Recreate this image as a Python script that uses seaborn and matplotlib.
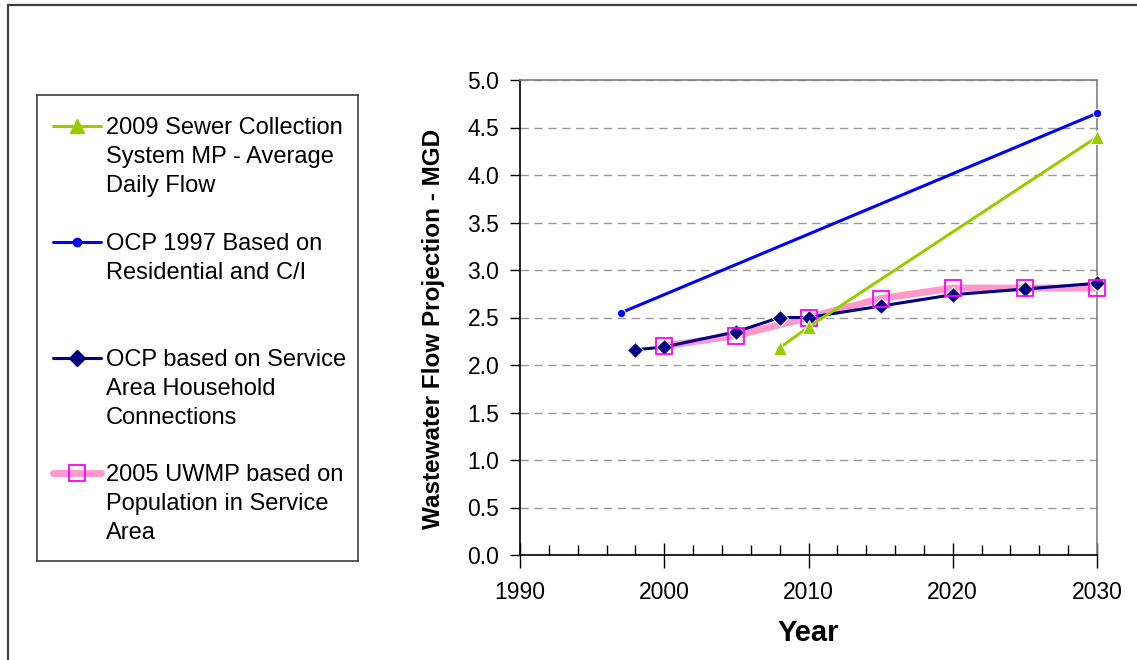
import matplotlib
matplotlib.use('Agg')
import matplotlib.pyplot as plt
from matplotlib.patches import Rectangle
from matplotlib.ticker import MultipleLocator, FormatStrFormatter
import seaborn as sns
import pandas as pd

# values (MGD)
sewer_years = [2008, 2010, 2030]
sewer_flow = [2.18, 2.40, 4.40]

ocp97_years = [1997, 2030]
ocp97_flow = [2.55, 4.65]

ocp_hh_years = [1998, 2000, 2005, 2008, 2010, 2015, 2020, 2025, 2030]
ocp_hh_flow = [2.16, 2.19, 2.35, 2.50, 2.50, 2.62, 2.74, 2.80, 2.86]

uwmp_years = [2000, 2005, 2010, 2015, 2020, 2025, 2030]
uwmp_flow = [2.20, 2.31, 2.50, 2.70, 2.81, 2.81, 2.81]

labels = ['2009 Sewer Collection\nSystem MP - Average\nDaily Flow',
          'OCP 1997 Based on\nResidential and C/I',
          'OCP based on Service\nArea Household\nConnections',
          '2005 UWMP based on\nPopulation in Service\nArea']

sns.set_theme(style='white')
plt.rcParams['font.family'] = ['Liberation Sans', 'DejaVu Sans']
plt.rcParams['text.color'] = 'black'
plt.rcParams['xtick.color'] = 'black'
plt.rcParams['ytick.color'] = 'black'
plt.rcParams['axes.labelcolor'] = 'black'

W, H = 1137, 660
fig = plt.figure(figsize=(W / 100, H / 100), dpi=100)
fig.patch.set_facecolor('white')

# outer chart border (runs off the right and bottom edges)
fig.add_artist(Rectangle((8 / W, -0.1), 1.2, 1 - 5 / H + 0.1, transform=fig.transFigure,
                         fill=False, edgecolor='#404040', lw=1.6, clip_on=False))

ax = fig.add_axes([520 / W, 105 / H, 577 / W, 475 / H])

pink_marks = dict(marker='s', markersize=11, markerfacecolor='none',
                  markeredgecolor='#FF00FF', markeredgewidth=1.3)
series = [
    (sewer_years, sewer_flow, dict(color='#99CC00', marker='^', markersize=10, lw=2.2), 6),
    (ocp97_years, ocp97_flow, dict(color='#0000FF', marker='o', markersize=6, lw=2.2), 7),
    (ocp_hh_years, ocp_hh_flow, dict(color='#000080', marker='D', markersize=8.5, lw=2.2), 4),
    (uwmp_years, uwmp_flow, dict(color='#FF99CC', lw=5), 3),
]

for xs, ys, st, z in series:
    df = pd.DataFrame({'Year': xs, 'Flow': ys})
    sns.lineplot(data=df, x='Year', y='Flow', ax=ax, clip_on=False, zorder=z, **st)

# open magenta squares sit on top of the navy diamonds
uwmp_df = pd.DataFrame({'Year': uwmp_years, 'Flow': uwmp_flow})
sns.lineplot(data=uwmp_df, x='Year', y='Flow', ax=ax, linestyle='none',
             clip_on=False, zorder=5, **pink_marks)

ax.set_xlim(1990, 2030)
ax.set_ylim(0, 5)
ax.xaxis.set_major_locator(MultipleLocator(10))
ax.xaxis.set_minor_locator(MultipleLocator(2))
ax.yaxis.set_major_locator(MultipleLocator(0.5))
ax.yaxis.set_major_formatter(FormatStrFormatter('%.1f'))

ax.tick_params(axis='x', which='major', direction='inout', length=18, width=1,
               labelsize=16.5, pad=10, bottom=True)
ax.tick_params(axis='x', which='minor', direction='in', length=7, width=1, bottom=True)
ax.tick_params(axis='y', which='major', direction='out', length=7, width=1,
               labelsize=16.5, pad=8, left=True)

ax.yaxis.grid(True, linestyle=(0, (6, 4)), color='#999999', lw=1)
ax.xaxis.grid(False)
ax.set_axisbelow(True)

for side in ['left', 'bottom']:
    ax.spines[side].set_color('black')
    ax.spines[side].set_linewidth(1.2)
for side in ['top', 'right']:
    ax.spines[side].set_color('#808080')
    ax.spines[side].set_linewidth(1.2)

ax.set_xlabel('Year', fontsize=21, fontweight='bold')
ax.set_ylabel('Wastewater Flow Projection - MGD', fontsize=17.5, fontweight='bold')
ax.xaxis.set_label_coords(0.5, -0.135)
ax.yaxis.set_label_coords(-0.13, 0.476)

# legend box drawn by hand so that the sample line sits at the first text line
lg = fig.add_axes([37 / W, 99 / H, 321 / W, 466 / H])
lg.set_xlim(0, 321)
lg.set_ylim(466, 0)
lg.set_xticks([])
lg.set_yticks([])
for sp in lg.spines.values():
    sp.set_color('#404040')
    sp.set_linewidth(1.2)

rows = [31, 147, 263, 378]
for (xs, ys, st, z), lab, yy in zip(series, labels, rows):
    line_st = {k: v for k, v in st.items() if k not in ('marker', 'markersize')}
    lg.plot([16, 64], [yy, yy], **line_st)
    if 'marker' in st:
        mk = {k: v for k, v in st.items() if k != 'lw'}
    else:
        mk = pink_marks
    lg.plot([40], [yy], linestyle='none', **mk)
    lg.text(69, yy - 9, lab, fontsize=17, va='top', ha='left', linespacing=1.42)

fig.savefig('out.png', dpi=100)
